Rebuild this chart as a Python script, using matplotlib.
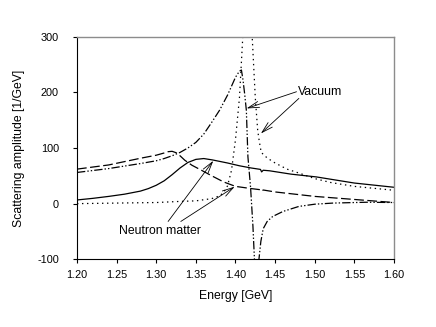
import matplotlib
matplotlib.use("Agg")
import matplotlib.pyplot as plt

plt.rcParams['font.family'] = ['Liberation Sans', 'DejaVu Sans']
plt.rcParams['lines.scale_dashes'] = False

# Vacuum, imaginary part (dotted)
vac_im_x = [1.20, 1.25, 1.30, 1.33, 1.35, 1.37, 1.38, 1.385, 1.39, 1.395, 1.40, 1.405,
            1.41, 1.415, 1.42, 1.425, 1.428, 1.43, 1.4325, 1.44, 1.45, 1.465, 1.48,
            1.50, 1.52, 1.55, 1.60]
vac_im_y = [0, 1, 2, 4, 5, 9, 14, 20, 32, 60, 115, 190,
            320, 450, 330, 190, 132, 112, 92, 82, 73, 62, 55,
            45, 38, 31, 24]

# Vacuum, real part (dash-dot-dot)
vac_re_x = [1.20, 1.24, 1.28, 1.30, 1.31, 1.32, 1.33, 1.34, 1.35, 1.36, 1.37, 1.38,
            1.39, 1.40, 1.405, 1.4075, 1.4095, 1.4115, 1.4137, 1.4157, 1.419, 1.422,
            1.4265, 1.4296, 1.432, 1.435, 1.44, 1.447, 1.46, 1.48, 1.50, 1.523,
            1.565, 1.60]
vac_re_y = [56, 63, 72, 77, 81, 86, 92, 100, 110, 125, 146, 168,
            195, 227, 238, 240, 222, 198, 168, 84, 30, -40,
            -180, -100, -68, -45, -32, -23, -14, -5, -1, 1,
            2.5, 2]

# Neutron matter, real part (dashed)
nm_re_x = [1.20, 1.24, 1.28, 1.30, 1.31, 1.315, 1.32, 1.325, 1.33, 1.336, 1.345, 1.357,
           1.37, 1.385, 1.40, 1.42, 1.4315, 1.433, 1.435, 1.45, 1.50, 1.55, 1.60]
nm_re_y = [62, 69.5, 81.5, 87, 91, 93.3, 94, 91.5, 86, 78, 69, 60,
           50, 39, 31, 27, 25, 22.5, 24.5, 21, 13, 7.5, 2]

# Neutron matter, imaginary part (solid)
nm_im_x = [1.20, 1.22, 1.24, 1.26, 1.28, 1.29, 1.30, 1.31, 1.32, 1.33, 1.34, 1.35,
           1.36, 1.371, 1.39, 1.405, 1.42, 1.4315, 1.433, 1.435, 1.443, 1.47,
           1.502, 1.55, 1.60]
nm_im_y = [6.6, 9.5, 13, 17, 22.5, 27, 33, 41, 52, 64, 74, 79.5,
           81, 78.5, 73, 68, 64, 61.5, 57, 60, 59, 53,
           48, 37, 29.4]

x_ticks = [1.20, 1.25, 1.30, 1.35, 1.40, 1.45, 1.50, 1.55, 1.60]
x_tick_labels = ['1.20', '1.25', '1.30', '1.35', '1.40', '1.45', '1.50', '1.55', '1.60']
y_ticks = [-100, 0, 100, 200, 300]
y_tick_labels = ['-100', '0', '100', '200', '300']

fig = plt.figure(figsize=(4.36, 3.27), dpi=100)
ax = fig.add_axes([0.1766, 0.207, 0.727, 0.681])

lw = 0.9
ax.plot(vac_im_x, vac_im_y, color='black', lw=lw, linestyle=(0, (1, 2.6)))
ax.plot(vac_re_x, vac_re_y, color='black', lw=lw, linestyle=(0, (6, 1.5, 1, 1.5, 1, 1.5)))
ax.plot(nm_re_x, nm_re_y, color='black', lw=lw, linestyle=(0, (7, 2.5)))
ax.plot(nm_im_x, nm_im_y, color='black', lw=lw, linestyle='-')

ax.set_xlim(1.20, 1.60)
ax.set_ylim(-100, 300)
ax.set_xticks(x_ticks)
ax.set_xticklabels(x_tick_labels)
ax.set_yticks(y_ticks)
ax.set_yticklabels(y_tick_labels)
ax.tick_params(axis='x', direction='out', length=3, width=0.8, labelsize=7.8, pad=5)
ax.tick_params(axis='y', direction='out', length=3, width=0.8, labelsize=7.8, pad=10)

for s in ['top', 'right']:
    ax.spines[s].set_color('#8c8c8c')
    ax.spines[s].set_linewidth(1.0)
for s in ['left', 'bottom']:
    ax.spines[s].set_color('black')
    ax.spines[s].set_linewidth(0.8)

ax.set_xlabel('Energy [GeV]', fontsize=8.8, labelpad=7)
ax.set_ylabel('Scattering amplitude [1/GeV]', fontsize=8.8, labelpad=9)

aprops = dict(arrowstyle='->, head_length=0.8, head_width=0.22', color='black', lw=0.6,
              shrinkA=0, shrinkB=0)
ax.text(1.4785, 200, 'Vacuum', fontsize=8.8, ha='left', va='center')
ax.annotate('', xy=(1.414, 171), xytext=(1.477, 201), arrowprops=aprops)
ax.annotate('', xy=(1.432, 126), xytext=(1.480, 189), arrowprops=aprops)

ax.text(1.2525, -50, 'Neutron matter', fontsize=8.8, ha='left', va='center')
ax.annotate('', xy=(1.372, 77), xytext=(1.315, -32), arrowprops=aprops)
ax.annotate('', xy=(1.399, 30.5), xytext=(1.331, -32), arrowprops=aprops)

fig.savefig('out.png', dpi=100)
